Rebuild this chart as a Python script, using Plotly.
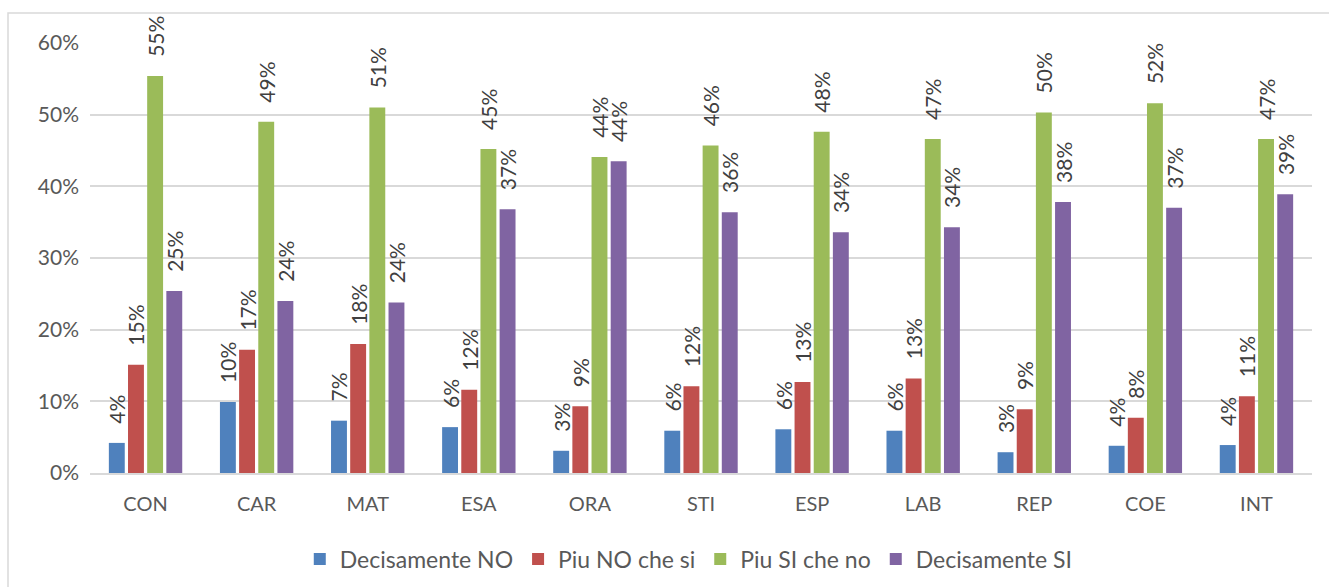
import plotly.graph_objects as go

categories = ["CON", "CAR", "MAT", "ESA", "ORA", "STI", "ESP", "LAB", "REP", "COE", "INT"]
decisamente_no = [0.042, 0.099, 0.073, 0.064, 0.031, 0.059, 0.061, 0.059, 0.029, 0.038, 0.039]
piu_no = [0.151, 0.172, 0.180, 0.116, 0.093, 0.121, 0.127, 0.132, 0.089, 0.077, 0.107]
piu_si = [0.554, 0.490, 0.510, 0.452, 0.441, 0.457, 0.476, 0.466, 0.503, 0.516, 0.466]
decisamente_si = [0.254, 0.240, 0.238, 0.368, 0.435, 0.364, 0.336, 0.343, 0.378, 0.370, 0.389]

series = [
    ("Decisamente NO", decisamente_no, "#4F81BD"),
    ("Piu NO che si", piu_no, "#C0504D"),
    ("Piu SI che no", piu_si, "#9BBB59"),
    ("Decisamente SI", decisamente_si, "#8064A2"),
]

FONT = "Lato, 'Open Sans', sans-serif"
GREY = "#595959"

fig = go.Figure()
for name, vals, col in series:
    fig.add_trace(go.Bar(
        x=categories, y=vals, name=name,
        marker=dict(color=col, line=dict(width=0)),
        texttemplate="\u00a0\u00a0\u00a0%{y:.0%}", textposition="outside",
        textangle=-90, cliponaxis=False, constraintext="none",
        textfont=dict(size=21, color="#404040", family=FONT),
    ))

L, R, T, B = 90, 17, 43, 114
W, H = 1329, 587
pw, ph = W - L - R, H - T - B

fig.update_layout(
    width=W, height=H,
    margin=dict(l=L, r=R, t=T, b=B, autoexpand=False),
    paper_bgcolor="white", plot_bgcolor="white",
    barmode="group", bargap=0.31, bargroupgap=0.17,
    font=dict(family=FONT, size=20, color=GREY),
    yaxis=dict(range=[0, 0.6], dtick=0.1, tickformat=".0%",
               gridcolor="#D9D9D9", gridwidth=1.5, zeroline=False,
               showline=False, ticks="", ticklabelstandoff=10,
               tickfont=dict(size=21, color=GREY)),
    xaxis=dict(showline=True, linecolor="#D9D9D9", linewidth=1.5, ticks="",
               tickfont=dict(size=20, color=GREY), ticklabelstandoff=12),
    legend=dict(orientation="h", x=0.49, xanchor="center", y=-0.15, yanchor="top",
                font=dict(size=23, color=GREY), itemwidth=30,
                traceorder="normal", tracegroupgap=0),
    showlegend=True,
    shapes=[dict(type="rect", xref="paper", yref="paper",
                 x0=(8 - L) / pw, x1=(1340 - L) / pw,
                 y0=(H - B - 600) / ph, y1=(H - B - 13) / ph,
                 line=dict(color="#D9D9D9", width=1.5), layer="below")],
)

fig.write_html("out.html")
